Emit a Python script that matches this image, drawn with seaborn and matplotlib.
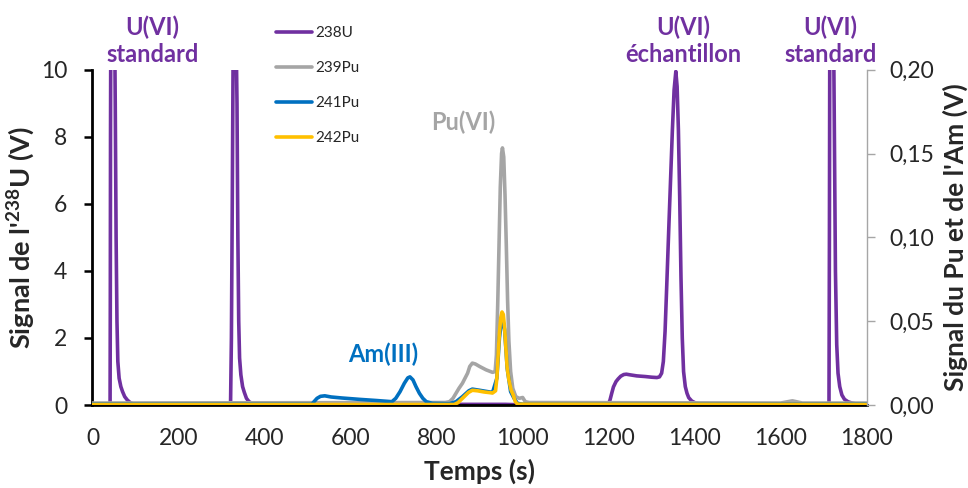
import matplotlib
matplotlib.use("Agg")
import matplotlib.pyplot as plt
import seaborn as sns

# --- data (time in s, signal in V) ---
u238_t = [0, 41, 41.5, 42, 43, 46, 50, 53, 55, 57, 59, 62, 66, 70, 75, 81, 88, 95, 110, 300,
          321, 323, 325, 327, 330, 333, 336, 338, 340, 342, 345, 349, 353, 358, 364, 372, 385, 830,
          843, 960, 984, 1195,
          1199, 1203, 1207, 1211, 1217, 1222, 1228, 1235, 1241, 1250, 1265, 1285, 1300, 1312, 1318, 1323,
          1327, 1331, 1335, 1340, 1344, 1348, 1352, 1356, 1359, 1362, 1365, 1368, 1371, 1374, 1378, 1382,
          1386, 1393, 1402, 1415, 1700,
          1712, 1713, 1714, 1717, 1721, 1724, 1727, 1730, 1733, 1737, 1742, 1748, 1756, 1765, 1780, 1800]
u238_v = [0.01, 0.01, 3, 8, 13, 16, 14, 9, 5, 2.5, 1.3, 0.8, 0.55, 0.4, 0.25, 0.15, 0.07, 0.03, 0.015, 0.01,
          0.01, 2, 6, 10.5, 13, 12, 9, 5, 2.5, 1.4, 0.9, 0.55, 0.38, 0.2, 0.1, 0.04, 0.015, 0.01,
          0.02, 0.02, 0.01, 0.01,
          0.02, 0.15, 0.35, 0.54, 0.7, 0.78, 0.86, 0.91, 0.92, 0.9, 0.87, 0.85, 0.83, 0.82, 0.84, 0.95,
          1.3, 2.2, 3.6, 5.4, 6.8, 8.2, 9.4, 9.95, 9.5, 8.2, 6.2, 3.8, 2.0, 1.0, 0.55, 0.35,
          0.22, 0.12, 0.06, 0.02, 0.01,
          0.01, 5, 12, 16, 14, 9, 4, 1.8, 0.95, 0.55, 0.3, 0.17, 0.1, 0.06, 0.02, 0.01]

pu239_t = [0, 820, 830, 838, 845, 852, 860, 866, 872, 877, 883, 890, 900, 915, 930, 936, 939, 942, 945, 948,
           951, 953, 956, 959, 962, 965, 968, 972, 977, 984, 992, 1000, 1006, 1015, 1600, 1627, 1650, 1800]
pu239_v = [0.0012, 0.0015, 0.002, 0.004, 0.007, 0.01, 0.013, 0.016, 0.019, 0.023, 0.025, 0.0245, 0.023, 0.021,
           0.0195, 0.02, 0.03, 0.06, 0.095, 0.13, 0.15, 0.1534, 0.148, 0.125, 0.095, 0.062, 0.038, 0.02, 0.01,
           0.005, 0.004, 0.0045, 0.002, 0.0015, 0.0012, 0.0025, 0.0012, 0.0012]

pu241_t = [0, 510, 515, 522, 530, 540, 555, 580, 620, 660, 696, 705, 715, 725, 733, 738, 745, 752, 760, 768,
           776, 790, 830, 845, 860, 875, 883, 900, 930, 940, 946, 952, 958, 964, 972, 980, 988, 1000, 1800]
pu241_v = [0.0005, 0.0005, 0.002, 0.004, 0.0052, 0.0055, 0.0048, 0.0042, 0.0034, 0.0027, 0.002, 0.004, 0.008,
           0.013, 0.0162, 0.0168, 0.015, 0.011, 0.007, 0.004, 0.002, 0.001, 0.0008, 0.002, 0.005, 0.0085, 0.0095,
           0.0088, 0.0075, 0.016, 0.04, 0.053, 0.045, 0.022, 0.008, 0.004, 0.001, 0.0005, 0.0005]

pu242_t = [0, 841, 850, 858, 866, 874, 883, 895, 910, 930, 937, 940, 943, 946, 949, 952, 955, 958, 961, 964,
           968, 973, 978, 983, 988, 1800]
pu242_v = [0.0003, 0.0003, 0.0015, 0.0035, 0.0055, 0.0075, 0.0088, 0.0085, 0.0078, 0.0072, 0.0085, 0.016, 0.03,
           0.043, 0.052, 0.0555, 0.054, 0.046, 0.034, 0.022, 0.015, 0.009, 0.006, 0.002, 0.0005, 0.0003]

series_names = ["238U", "239Pu", "241Pu", "242Pu"]
series_colors = ["#7030A0", "#A5A5A5", "#0070C0", "#FFC000"]

x_ticks = [0, 200, 400, 600, 800, 1000, 1200, 1400, 1600, 1800]
left_ticks = [0, 2, 4, 6, 8, 10]
right_ticks = [0.0, 0.05, 0.10, 0.15, 0.20]
right_labels = ["0,00", "0,05", "0,10", "0,15", "0,20"]

sns.set_style("white")
plt.rcParams["font.family"] = ["Lato", "DejaVu Sans"]
plt.rcParams["mathtext.fontset"] = "custom"
plt.rcParams["mathtext.rm"] = "Lato"
plt.rcParams["mathtext.bf"] = "Lato:bold"

fig = plt.figure(figsize=(9.68, 4.88), dpi=100)
ax = fig.add_axes([0.0955, 0.170, 0.80, 0.687])
ax2 = ax.twinx()

line_kw = dict(lw=2.6, solid_joinstyle="round", solid_capstyle="round", legend=False)
sns.lineplot(x=u238_t, y=u238_v, ax=ax, color=series_colors[0], **line_kw)
sns.lineplot(x=pu239_t, y=pu239_v, ax=ax2, color=series_colors[1], **line_kw)
sns.lineplot(x=pu241_t, y=pu241_v, ax=ax2, color=series_colors[2], **line_kw)
sns.lineplot(x=pu242_t, y=pu242_v, ax=ax2, color=series_colors[3], **line_kw)

ax.set_xlim(0, 1800)
ax.set_ylim(0, 10)
ax2.set_ylim(0, 0.20)
ax.set_xticks(x_ticks)
ax.set_yticks(left_ticks)
ax2.set_yticks(right_ticks)
ax2.set_yticklabels(right_labels)

for a in (ax, ax2):
    a.spines["top"].set_visible(False)
ax2.spines["left"].set_visible(False)
ax2.spines["bottom"].set_visible(False)
ax.spines["right"].set_visible(False)
ax.spines["left"].set_linewidth(2)
ax.spines["left"].set_color("black")
ax.spines["bottom"].set_linewidth(2)
ax.spines["bottom"].set_color("black")
ax2.spines["right"].set_color("#A6A6A6")
ax2.spines["right"].set_linewidth(1)

ax.tick_params(axis="y", direction="out", length=6, width=1.8, color="black", labelsize=16.5, pad=12)
ax.tick_params(axis="x", direction="inout", length=9, width=1.8, color="black", labelsize=16.5, pad=12)
ax2.tick_params(axis="y", direction="out", length=6, width=1, color="#A6A6A6", labelsize=16.5, pad=10)

ax.set_xlabel("Temps (s)", fontsize=19, fontweight="bold", labelpad=7)
ax.set_ylabel(r"Signal de l'$^{\mathbf{238}}$U (V)", fontsize=19.5, fontweight="bold", labelpad=3)
ax2.set_ylabel("Signal du Pu et de l'Am (V)", fontsize=19, fontweight="bold", labelpad=6)

ann = dict(fontsize=17, fontweight="bold", ha="center", va="center", clip_on=False, linespacing=1.2)
ax.text(139, 10.87, "U(VI)\nstandard", color=series_colors[0], **ann)
ax.text(1374, 10.87, "U(VI)\néchantillon", color=series_colors[0], **ann)
ax.text(1716, 10.87, "U(VI)\nstandard", color=series_colors[0], **ann)
ax.text(862, 8.42, "Pu(VI)", color=series_colors[1], **ann)
ax.text(675, 1.5, "Am(III)", color=series_colors[2], **ann)

handles = ax.get_lines()[:1] + ax2.get_lines()[:3]
fig.legend(handles, series_names, loc="upper left", bbox_to_anchor=(0.285, 0.947), frameon=False,
           fontsize=11, handlelength=2.35, labelspacing=1.38, handletextpad=0.2, borderpad=0, borderaxespad=0)

fig.savefig("out.png", dpi=100)
